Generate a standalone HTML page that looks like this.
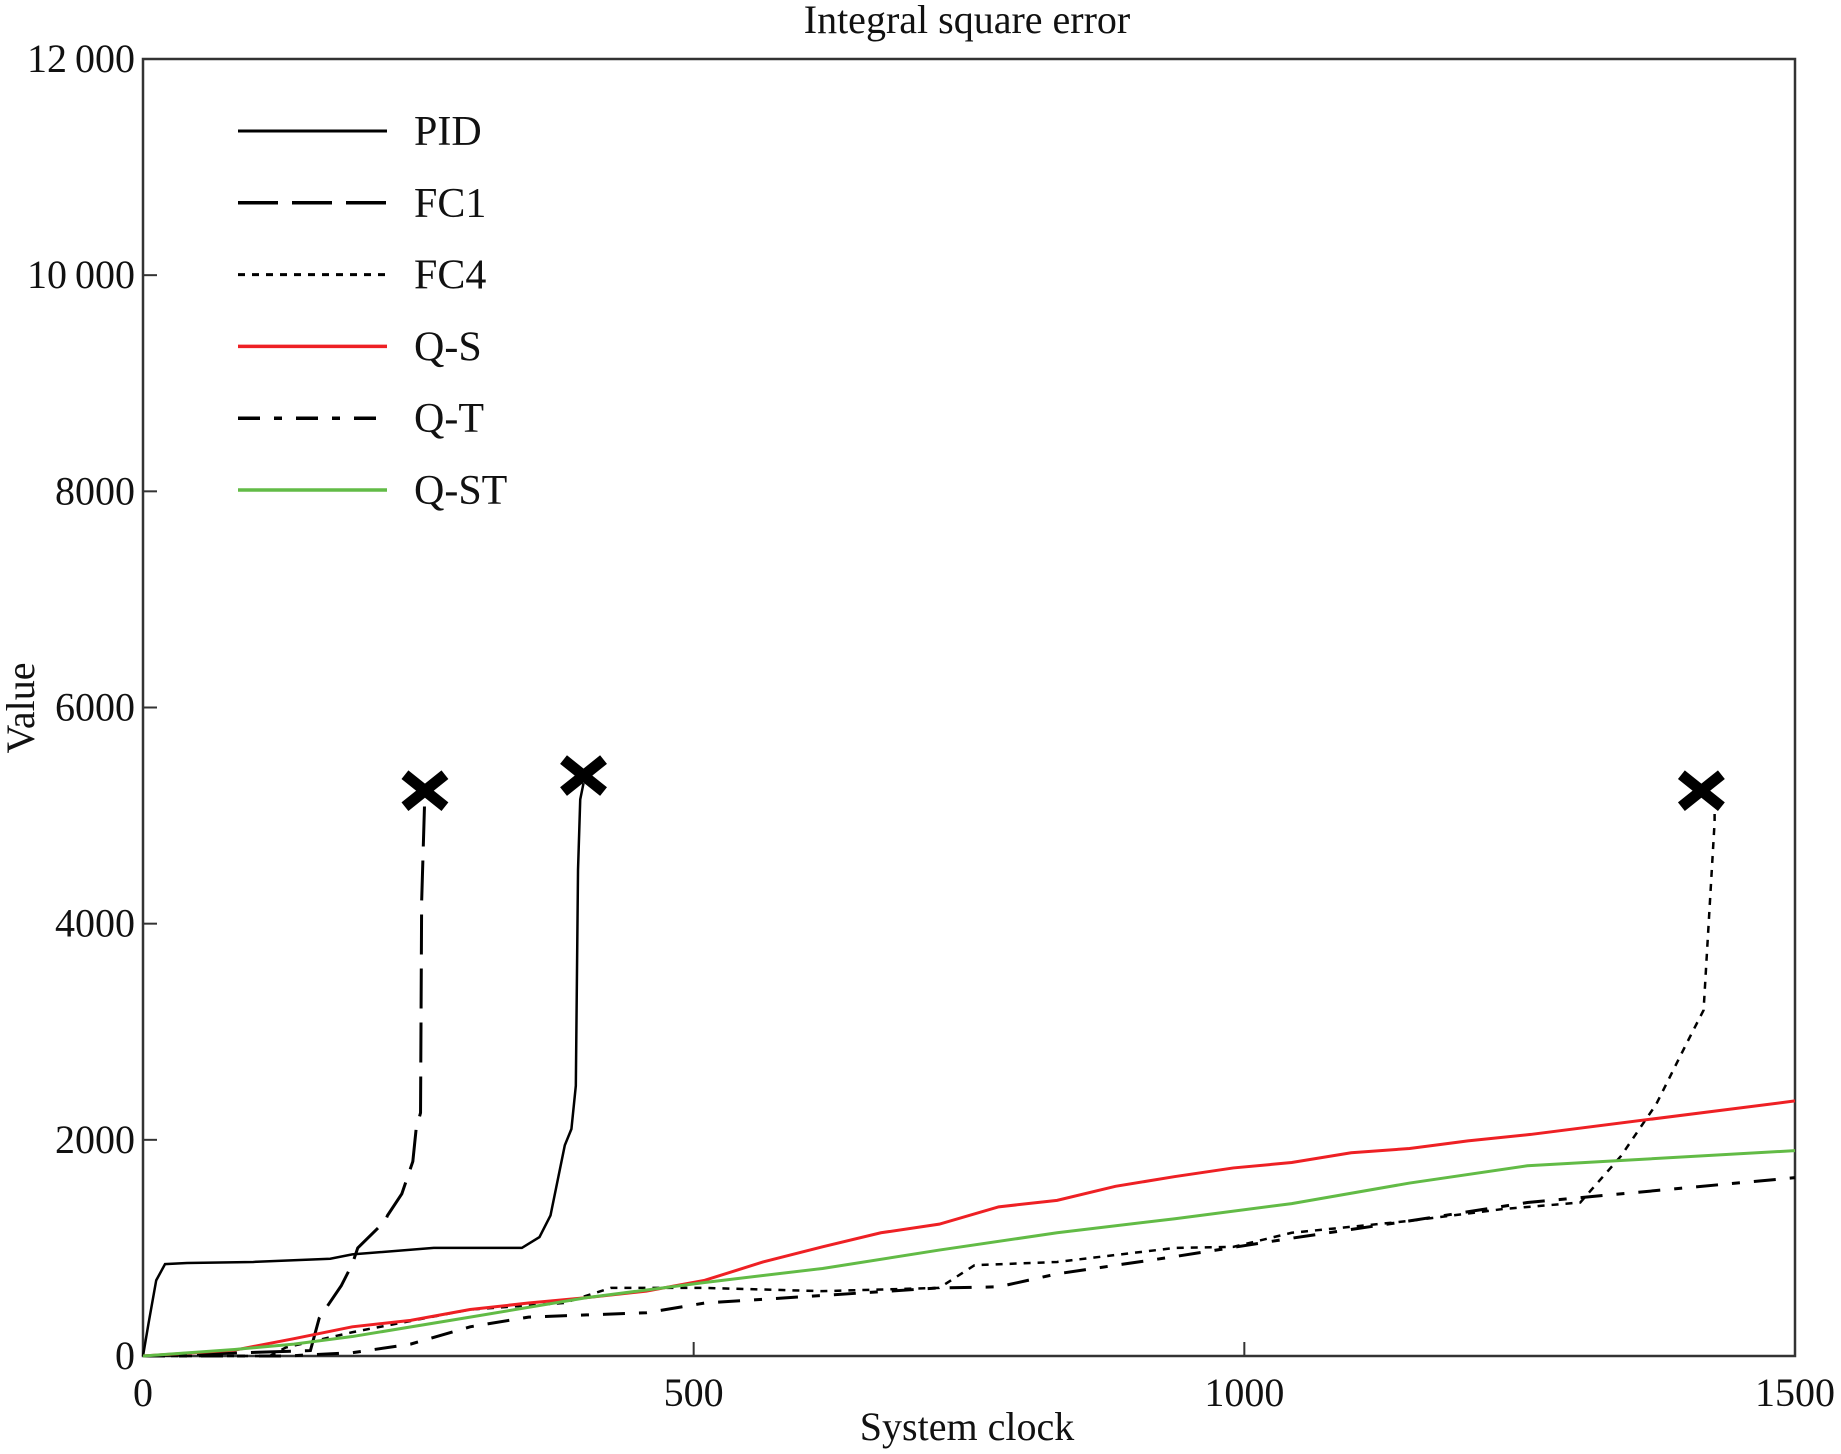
<!DOCTYPE html>
<html><head><meta charset="utf-8"><style>
html,body{margin:0;padding:0;background:#fff}
svg{display:block}
text{font-family:"Liberation Serif",serif;fill:#111}
</style></head><body>
<svg id="chart" width="1841" height="1454" viewBox="0 0 1841 1454" xmlns="http://www.w3.org/2000/svg">
<text x="967" y="33" font-size="40" text-anchor="middle">Integral square error</text>
<text x="967" y="1440" font-size="40" text-anchor="middle">System clock</text>
<text transform="translate(34,708) rotate(-90)" font-size="40" text-anchor="middle">Value</text>
<rect x="143" y="59" width="1652" height="1297" fill="none" stroke="#333" stroke-width="2.5"/>
<g id="axes"></g>
<g id="series"></g>
<g id="legend"></g>
</svg>
<script>
const xTicks=[0,500,1000,1500];
const yTicks=[0,2000,4000,6000,8000,10000,12000];
const yTickLabels=["0","2000","4000","6000","8000","10\u2009000","12\u2009000"];
const pidX=[0,5,12,20,40,100,170,190,264,344,360,370,377,383,389,393,395,397,400];
const pidY=[0,300,700,850,860,870,900,940,1000,1000,1100,1300,1650,1950,2100,2500,4500,5150,5300];
const fc1X=[152,160,180,190,195,220,222,235,245,248,252,253,256];
const fc1Y=[50,350,650,850,1000,1250,1300,1500,1800,2100,2250,4200,5230];
const fc4X=[115,130,190,297,382,425,510,617,723,755,830,937,990,1043,1150,1235,1305,1342,1374,1401,1417,1422,1427,1427];
const fc4Y=[0,80,220,430,490,630,630,600,630,840,870,1000,1010,1140,1250,1360,1420,1850,2330,2880,3200,4070,4940,5150];
const qsX=[83,137,190,243,297,350,403,457,510,563,617,670,723,777,830,883,937,990,1043,1097,1150,1203,1260,1500];
const qsY=[54,160,270,330,430,490,540,600,700,870,1010,1140,1220,1380,1440,1570,1660,1740,1790,1880,1920,1990,2050,2360];
const qstX=[0,83,137,190,297,403,510,617,723,830,937,1043,1150,1257,1500];
const qstY=[0,60,110,180,360,540,680,810,980,1140,1270,1410,1600,1760,1900];
const qtX=[130,190,243,297,350,403,457,510,617,723,777,830,937,1043,1150,1257,1500];
const qtY=[0,30,110,270,360,380,400,490,560,630,640,760,920,1090,1250,1420,1650];
const markX=[400,256,1415];
const markY=[5370,5230,5230];
const legendNames=["PID","FC1","FC4","Q-S","Q-T","Q-ST"];

const L=143,R=1795,T=59,B=1356;
const sx=v=>L+(R-L)*v/1500;
const sy=v=>B-(B-T)*v/12000;
const NS="http://www.w3.org/2000/svg";
function mk(tag,attrs,parent){const e=document.createElementNS(NS,tag);for(const k in attrs)e.setAttribute(k,attrs[k]);parent.appendChild(e);return e;}
const axes=document.getElementById('axes');
xTicks.forEach((t,i)=>{
 const l=mk('line',{x1:sx(t),x2:sx(t),y1:B,y2:B-14,stroke:'#333','stroke-width':2},axes);
 
 
 const tx=mk('text',{x:sx(t),y:B+50,'font-size':40,'text-anchor':'middle'},axes);tx.textContent=t;
 
 
});
yTicks.forEach((t,i)=>{
 const l=mk('line',{x1:L,x2:L+14,y1:sy(t),y2:sy(t),stroke:'#333','stroke-width':2},axes);
 
 
 const tx=mk('text',{x:L-8,y:sy(t)+13,'font-size':40,'text-anchor':'end'},axes);tx.textContent=yTickLabels[i];
 
 
});
const styles={
 "PID":{c:'#000',d:'',w:2.5},
 "FC1":{c:'#000',d:'40 14',w:3},
 "FC4":{c:'#000',d:'7 7',w:2.5},
 "Q-S":{c:'#ee2024',d:'',w:3},
 "Q-T":{c:'#000',d:'22 14 8 14',w:3},
 "Q-ST":{c:'#62bb46',d:'',w:3}
};
const data={"PID":[pidX,pidY],"FC1":[fc1X,fc1Y],"FC4":[fc4X,fc4Y],"Q-S":[qsX,qsY],"Q-T":[qtX,qtY],"Q-ST":[qstX,qstY]};
const sg=document.getElementById('series');
Object.keys(data).forEach(n=>{
 const [xs,ys]=data[n];const s=styles[n];
 let pts=[];
 if(xs[0]>0) pts.push(sx(0)+','+sy(0));
 xs.forEach((x,i)=>pts.push(sx(x)+','+sy(ys[i])));
 const p=mk('polyline',{points:pts.join(' '),fill:'none',stroke:s.c,'stroke-width':s.w,'stroke-dasharray':s.d},sg);
 
 
});
markX.forEach((x,i)=>{
 const cx=sx(x),cy=sy(markY[i]);
 const g=mk('path',{d:`M${cx-20},${cy-16}L${cx+20},${cy+16}M${cx+20},${cy-16}L${cx-20},${cy+16}`,stroke:'#000','stroke-width':11,fill:'none'},sg);
 
 
});
const lg=document.getElementById('legend');
legendNames.forEach((n,i)=>{
 const y=131+i*71.8;const s=styles[n];
 const l=mk('line',{x1:238,x2:387,y1:y,y2:y,stroke:s.c,'stroke-width':s.w+0.5,'stroke-dasharray':s.d},lg);
 
 
 const t=mk('text',{x:414,y:y+14,'font-size':42},lg);t.textContent=n;
 
 
});
</script>
</body></html>
